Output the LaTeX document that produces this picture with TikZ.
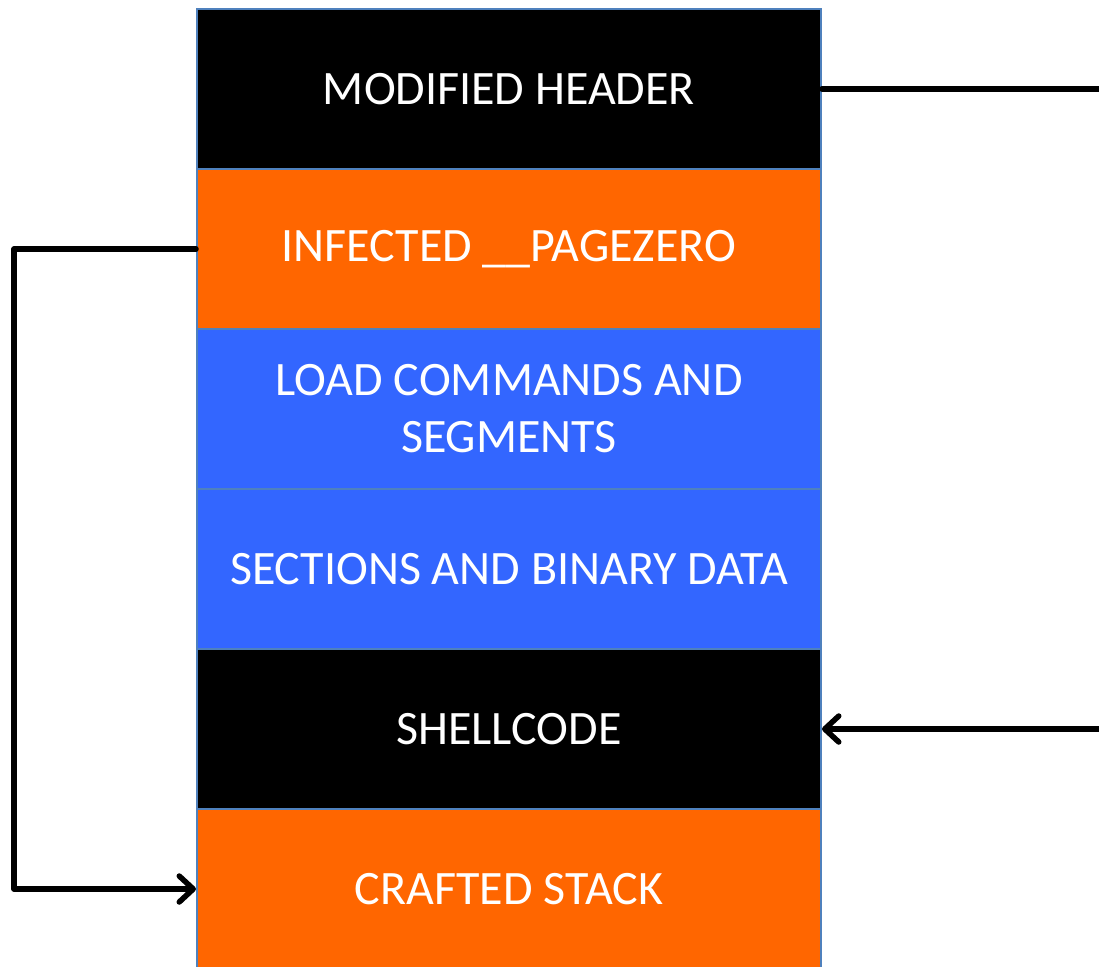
\documentclass[tikz,border=0pt]{standalone}
\usepackage{fontspec}
\setmainfont{Carlito}
\usetikzlibrary{arrows.meta}
\definecolor{segborder}{HTML}{4F81BD}
\definecolor{segorange}{HTML}{FF6600}
\definecolor{segblue}{HTML}{3366FF}
\begin{document}
\begin{tikzpicture}[x=1pt,y=-1pt,
  seg/.style={draw=segborder, line width=2pt, minimum width=624pt, minimum height=160pt,
    inner sep=0pt, text=white, font=\fontsize{48}{57}\selectfont, align=center, anchor=north west},
  conn/.style={line width=5.5pt, line cap=round, line join=round},
  tip/.style={-{Straight Barb[length=14pt,width=26pt,round]}}
]
\useasboundingbox (0,0) rectangle (1099,966);
\node[seg, fill=black]      (hdr)   at (196,8)   {MODIFIED HEADER};
\node[seg, fill=segorange]  (pz)    at (196,168) {INFECTED \_\_PAGEZERO};
\node[seg, fill=segblue]    (lc)    at (196,328) {LOAD COMMANDS AND\\SEGMENTS};
\node[seg, fill=segblue]    (sec)   at (196,488) {SECTIONS AND BINARY DATA};
\node[seg, fill=black]      (shell) at (196,648) {SHELLCODE};
\node[seg, fill=segorange]  (stack) at (196,808) {CRAFTED STACK};
\coordinate (rt) at (1115,0);
\coordinate (lf) at (14,0);
\draw[conn, tip] (hdr.east) -- (hdr.east -| rt) |- (shell.east);
\draw[conn, tip] (pz.west) -- (pz.west -| lf) |- (stack.west);
\end{tikzpicture}
\end{document}
